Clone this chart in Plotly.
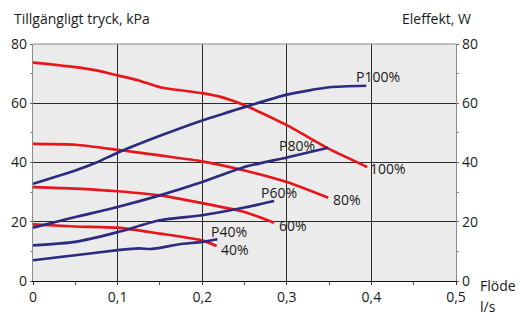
import plotly.graph_objects as go

# Pressure curves (kPa) - red
red100_x = [0, 0.05, 0.075, 0.1, 0.125, 0.15, 0.2, 0.225, 0.25, 0.3, 0.35, 0.395]
red100_y = [73.7, 72.2, 71.1, 69.4, 67.7, 65.4, 63.4, 61.9, 59.3, 52.6, 44.6, 38.5]
red80_x = [0, 0.05, 0.1, 0.15, 0.2, 0.25, 0.3, 0.349]
red80_y = [46.3, 46.0, 44.3, 42.4, 40.4, 37.3, 33.4, 28.1]
red60_x = [0, 0.05, 0.1, 0.15, 0.2, 0.25, 0.285]
red60_y = [31.7, 31.2, 30.3, 28.9, 26.3, 23.3, 19.7]
red40_x = [0, 0.05, 0.1, 0.15, 0.2, 0.217]
red40_y = [19.1, 18.4, 18.0, 16.0, 13.7, 11.8]

# Power curves (W) - blue
p100_x = [0, 0.05, 0.075, 0.1, 0.15, 0.2, 0.231, 0.25, 0.3, 0.35, 0.394]
p100_y = [32.8, 37.3, 40.0, 43.3, 49.0, 54.2, 57.0, 58.7, 62.9, 65.4, 65.9]
p80_x = [0, 0.05, 0.1, 0.15, 0.2, 0.25, 0.3, 0.349]
p80_y = [18.0, 21.6, 25.0, 28.9, 33.4, 38.5, 41.7, 45.0]
p60_x = [0, 0.05, 0.1, 0.15, 0.2, 0.25, 0.285]
p60_y = [12.0, 13.2, 16.5, 20.5, 22.2, 24.8, 27.0]
p40_x = [0, 0.05, 0.1, 0.125, 0.139, 0.15, 0.173, 0.2, 0.218]
p40_y = [7.0, 8.7, 10.4, 11.0, 10.8, 11.2, 12.4, 13.2, 14.1]

# Curve labels (text, x, y)
label_text = ["P100%", "100%", "P80%", "80%", "P60%", "60%", "P40%", "40%"]
label_x = [0.381, 0.397, 0.290, 0.353, 0.268, 0.290, 0.2095, 0.221]
label_y = [69.0, 38.0, 45.6, 27.5, 29.8, 18.7, 16.7, 10.5]

x_ticks = [0, 0.1, 0.2, 0.3, 0.4, 0.5]
x_ticklabels = ["0", "0,1", "0,2", "0,3", "0,4", "0,5"]
y_ticks = [0, 20, 40, 60, 80]

RED = "#e8161b"
BLUE = "#2d2a7f"
FONT = "Open Sans"
TXT = "#1a1a1a"

fig = go.Figure()
for xs, ys in [(red100_x, red100_y), (red80_x, red80_y), (red60_x, red60_y), (red40_x, red40_y)]:
    fig.add_trace(go.Scatter(x=xs, y=ys, mode="lines", line=dict(color=RED, width=2.7, shape="spline", smoothing=0.6),
                             hoverinfo="skip", showlegend=False))
for xs, ys in [(p100_x, p100_y), (p80_x, p80_y), (p60_x, p60_y), (p40_x, p40_y)]:
    fig.add_trace(go.Scatter(x=xs, y=ys, mode="lines", line=dict(color=BLUE, width=2.7, shape="spline", smoothing=0.6),
                             yaxis="y2", hoverinfo="skip", showlegend=False))

for t, lx, ly in zip(label_text, label_x, label_y):
    fig.add_annotation(x=lx, y=ly, text=t, showarrow=False, xanchor="left", yanchor="middle",
                       xshift=-1, font=dict(family=FONT, size=14, color=TXT))

PW, PH = 423, 237
# Axis titles
fig.add_annotation(xref="paper", yref="paper", x=(12-33)/PW, y=(281-18)/PH, text="Tillgängligt tryck, kPa",
                   showarrow=False, xanchor="left", yanchor="middle", font=dict(family=FONT, size=14, color=TXT))
fig.add_annotation(xref="paper", yref="paper", x=(473-33)/PW, y=(281-18)/PH, text="Eleffekt, W",
                   showarrow=False, xanchor="right", yanchor="middle", font=dict(family=FONT, size=14, color=TXT))
fig.add_annotation(xref="paper", yref="paper", x=(478-33)/PW, y=(281-285)/PH, text="Flöde",
                   showarrow=False, xanchor="left", yanchor="middle", font=dict(family=FONT, size=14, color=TXT))
fig.add_annotation(xref="paper", yref="paper", x=(478-33)/PW, y=(281-306)/PH, text="l/s",
                   showarrow=False, xanchor="left", yanchor="middle", font=dict(family=FONT, size=14, color=TXT))

# top border
fig.add_shape(type="line", xref="paper", yref="paper", x0=0, x1=1, y0=1, y1=1, line=dict(color="#8a8a8a", width=1.2))

fig.update_layout(
    width=521, height=316,
    margin=dict(l=33, r=65, t=44, b=35, autoexpand=False),
    paper_bgcolor="white", plot_bgcolor="#ebebeb",
    font=dict(family=FONT, size=14, color=TXT),
    xaxis=dict(range=[0, 0.5], tickvals=x_ticks, ticktext=x_ticklabels, showgrid=True, gridcolor="#2a2a2a",
               gridwidth=1, zeroline=False, showline=True, linecolor="#111", linewidth=1.2, automargin=False,
               ticks="outside", ticklen=3, tickcolor="#333",
               minor=dict(dtick=0.05, tick0=0, ticks="outside", ticklen=3, tickcolor="#555", showgrid=False),
               tickfont=dict(family=FONT, size=14, color=TXT)),
    yaxis=dict(range=[0, 80], tickvals=y_ticks, showgrid=True, gridcolor="#2a2a2a", gridwidth=1,
               zeroline=False, showline=True, linecolor="#8a8a8a", linewidth=1.2, automargin=False,
               ticks="outside", ticklen=2, tickcolor="#666",
               minor=dict(dtick=10, ticks="outside", ticklen=2, tickcolor="#888", showgrid=False),
               tickfont=dict(family=FONT, size=14, color=TXT)),
    yaxis2=dict(range=[0, 80], tickvals=y_ticks, overlaying="y", side="right", showgrid=False,
                zeroline=False, showline=True, linecolor="#8a8a8a", linewidth=1.2, automargin=False,
                ticks="outside", ticklen=2, tickcolor="#666",
                minor=dict(dtick=10, ticks="outside", ticklen=2, tickcolor="#888"),
                tickfont=dict(family=FONT, size=14, color=TXT)),
)

fig.write_html("out.html", config={"displayModeBar": False, "staticPlot": True},
               post_script="document.body.style.margin='0';document.body.style.overflow='hidden';")
